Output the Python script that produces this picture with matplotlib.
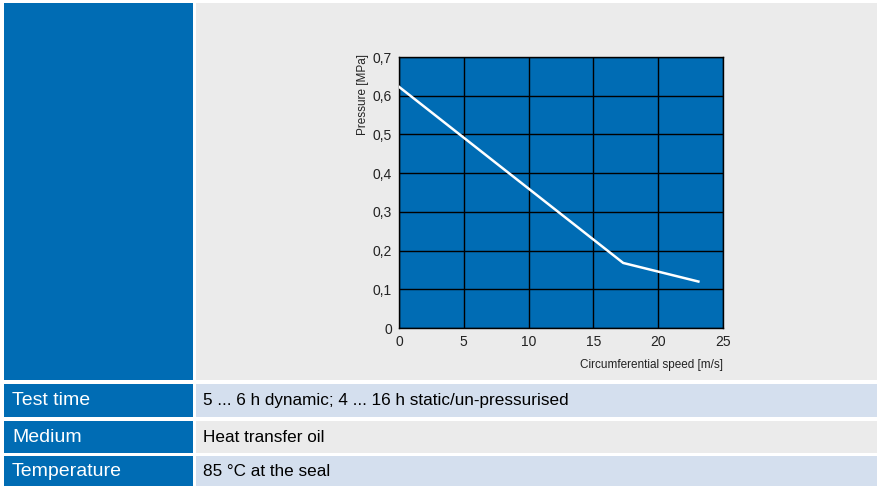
import matplotlib
matplotlib.use("Agg")
import matplotlib.pyplot as plt
from matplotlib.patches import Rectangle
from matplotlib.ticker import FuncFormatter

# data
speed = [0, 17.3, 23.1]
pressure = [0.623, 0.168, 0.12]
x_ticks = [0, 5, 10, 15, 20, 25]
y_ticks = [0, 0.1, 0.2, 0.3, 0.4, 0.5, 0.6, 0.7]

row_labels = ["Test time", "Medium", "Temperature"]
row_values = ["5 ... 6 h dynamic; 4 ... 16 h static/un-pressurised",
              "Heat transfer oil",
              "85 °C at the seal"]

BLUE = "#006CB4"
GRAY = "#EBEBEB"
LIGHT = "#D4DFEE"

plt.rcParams['font.family'] = ['Liberation Sans', 'DejaVu Sans']

W, H = 878, 486
fig = plt.figure(figsize=(W / 100, H / 100), dpi=100)
fig.patch.set_facecolor("white")

def box(x0, y0, x1, y1, color):
    # pixel coords (top-left origin) -> figure fraction
    fig.add_artist(Rectangle((x0 / W, 1 - y1 / H), (x1 - x0) / W, (y1 - y0) / H,
                             transform=fig.transFigure, facecolor=color,
                             edgecolor="none", zorder=0))

# top panel
box(4, 3, 193, 380, BLUE)
box(196, 3, 878, 380, GRAY)

# table rows
rows_y = [(384, 417), (421, 453), (456, 486)]
row_colors = [LIGHT, GRAY, LIGHT]
for (y0, y1), c, lab, val in zip(rows_y, row_colors, row_labels, row_values):
    box(4, y0, 193, y1, BLUE)
    box(196, y0, 878, y1, c)
    yc = 1 - (y0 + y1) / 2 / H
    fig.text(12 / W, yc, lab, color="white", fontsize=14, va="center", ha="left")
    fig.text(203 / W, yc, val, color="black", fontsize=12.3, va="center", ha="left")

# chart
ax = fig.add_axes([399 / W, 1 - 328 / H, 324 / W, 271 / H])
ax.set_facecolor(BLUE)
ax.plot(speed, pressure, color="white", linewidth=1.8, zorder=3)
ax.set_xlim(0, 25)
ax.set_ylim(0, 0.7)
ax.set_xticks(x_ticks)
ax.set_yticks(y_ticks)
ax.yaxis.set_major_formatter(FuncFormatter(lambda v, p: "0" if v == 0 else f"{v:.1f}".replace(".", ",")))
ax.grid(True, color="black", linewidth=1.0, zorder=2)
ax.set_axisbelow(False)
for s in ax.spines.values():
    s.set_color("black")
    s.set_linewidth(1.0)
ax.tick_params(length=0, labelsize=10, pad=5, colors="#222222")

ax.text(-0.112, 1.01, "Pressure [MPa]", rotation=90, ha="center", va="top",
        fontsize=8.5, transform=ax.transAxes, color="#222222")
ax.text(1.0, -0.135, "Circumferential speed [m/s]", ha="right", va="center",
        fontsize=8.5, transform=ax.transAxes, color="#222222")

fig.savefig("out.png", dpi=100, facecolor=fig.get_facecolor())
